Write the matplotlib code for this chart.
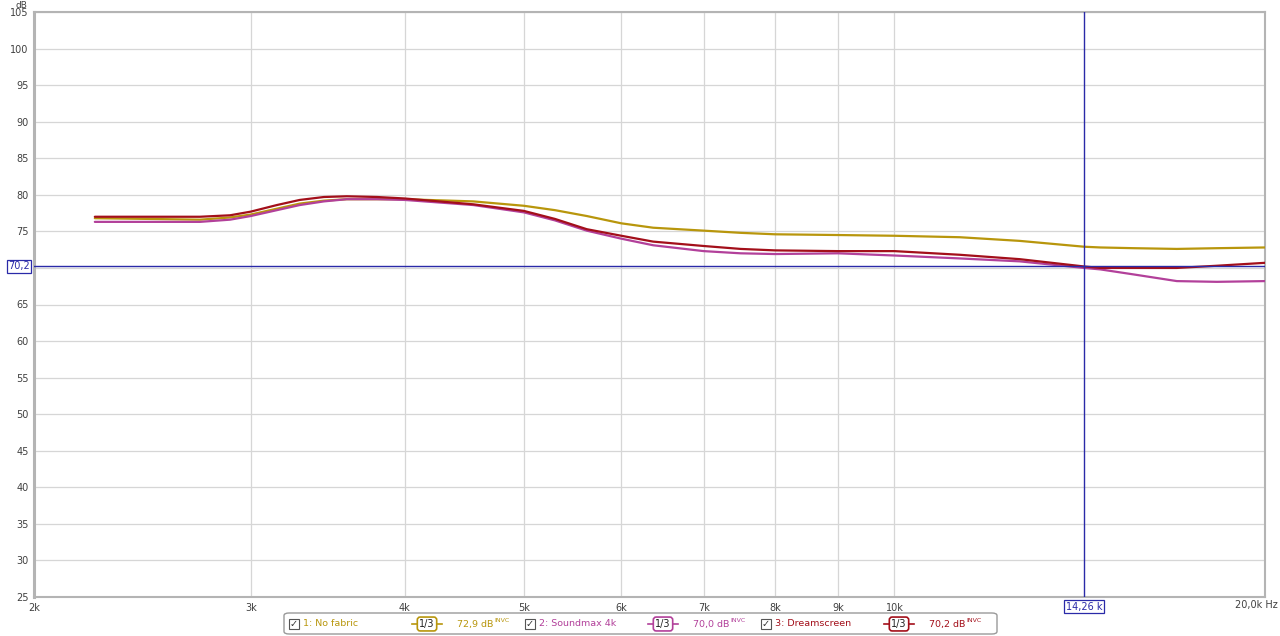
import matplotlib
matplotlib.use("Agg")
import matplotlib.pyplot as plt
from matplotlib.patches import FancyBboxPatch, Rectangle
from matplotlib.lines import Line2D
from matplotlib.ticker import FixedLocator, NullLocator

# ---------------------------------------------------------------------------
# Data
# ---------------------------------------------------------------------------
freqs = [2241, 2484, 2728, 2886, 3000, 3150, 3288, 3440, 3590, 3800, 4000,
         4549, 5000, 5300, 5624, 6000, 6368, 7000, 7500, 8000, 9000, 10000,
         11300, 12640, 14260, 14700, 15660, 16960, 18280, 20000]

no_fabric = [76.8, 76.7, 76.6, 76.9, 77.3, 78.1, 78.8, 79.2, 79.4, 79.4, 79.4,
             79.1, 78.5, 77.9, 77.1, 76.1, 75.5, 75.1, 74.8, 74.6, 74.5, 74.4,
             74.2, 73.7, 72.9, 72.8, 72.7, 72.6, 72.7, 72.8]

soundmax = [76.3, 76.3, 76.3, 76.6, 77.1, 77.9, 78.6, 79.1, 79.4, 79.4, 79.3,
            78.6, 77.6, 76.5, 75.1, 74.0, 73.1, 72.3, 72.0, 71.9, 72.0, 71.7,
            71.3, 70.9, 70.0, 69.8, 69.1, 68.2, 68.1, 68.2]

dreamscreen = [77.0, 77.0, 77.0, 77.2, 77.7, 78.6, 79.3, 79.7, 79.8, 79.7, 79.5,
               78.7, 77.8, 76.7, 75.3, 74.4, 73.6, 73.0, 72.6, 72.4, 72.3, 72.3,
               71.8, 71.2, 70.2, 70.0, 70.0, 70.0, 70.3, 70.7]

series_names = ["1: No fabric", "2: Soundmax 4k", "3: Dreamscreen"]
series_colors = ["#B8960C", "#B2409A", "#A30F1A"]
cursor_values = ["72,9", "70,0", "70,2"]

cursor_freq = 14260
cursor_db = 70.2

y_ticks = list(range(25, 106, 5))
x_ticks = [2000, 3000, 4000, 5000, 6000, 7000, 8000, 9000, 10000]
x_tick_labels = ["2k", "3k", "4k", "5k", "6k", "7k", "8k", "9k", "10k"]

# ---------------------------------------------------------------------------
# Figure
# ---------------------------------------------------------------------------
plt.rcParams["font.family"] = ["DejaVu Sans"]
W, H = 1280, 636
fig = plt.figure(figsize=(W / 100, H / 100), dpi=100)
fig.patch.set_facecolor("white")


def fx(px):
    return px / W


def fy(py):
    return 1 - py / H


ax = fig.add_axes([fx(34), fy(597), fx(1265) - fx(34), fy(12) - fy(597)])
ax.set_xscale("log")
ax.set_xlim(2000, 20000)
ax.set_ylim(25, 105)

ax.xaxis.set_major_locator(FixedLocator(x_ticks))
ax.xaxis.set_minor_locator(NullLocator())
ax.set_xticklabels(x_tick_labels)
ax.set_yticks(y_ticks)
ax.set_yticklabels(["" if v == 70 else str(v) for v in y_ticks])
ax.tick_params(length=0, labelsize=7, colors="#404040", pad=4)

ax.grid(True, color="#d6d6d6", linewidth=0.9)
ax.set_axisbelow(True)
for side, sp in ax.spines.items():
    sp.set_color("#b4b4b4")
    sp.set_linewidth(2.2 if side == "left" else 1.5)

for vals, color in zip([no_fabric, soundmax, dreamscreen], series_colors):
    ax.plot(freqs, vals, color=color, linewidth=1.6, solid_capstyle="round",
            solid_joinstyle="round", zorder=3)

# cursor lines
ax.axvline(cursor_freq, color="#2a2aa8", linewidth=1.0, zorder=4)
ax.axhline(cursor_db, color="#2a2aa8", linewidth=1.0, zorder=4)

box = dict(boxstyle="square,pad=0.15", facecolor="white",
           edgecolor="#2a2aa8", linewidth=0.9)
ax.annotate(f"{cursor_db:.1f}".replace(".", ","), xy=(0, cursor_db),
            xycoords=("axes fraction", "data"), xytext=(-3, 0),
            textcoords="offset points", ha="right", va="center",
            fontsize=7, color="#2a2aa8", bbox=box, annotation_clip=False,
            zorder=6)
ax.annotate(f"{cursor_freq / 1000:.2f} k".replace(".", ","), xy=(cursor_freq, 0),
            xycoords=("data", "axes fraction"), xytext=(0, -7),
            textcoords="offset points", ha="center", va="center",
            fontsize=7, color="#2a2aa8", bbox=box, annotation_clip=False,
            zorder=6)

fig.text(fx(21), fy(0.5), "dB", fontsize=6.5, color="#404040",
         ha="center", va="top")
fig.text(fx(1278), fy(605), "20,0k Hz", fontsize=7, color="#404040",
         ha="right", va="center")

# ---------------------------------------------------------------------------
# Legend bar
# ---------------------------------------------------------------------------
fig.patches.append(FancyBboxPatch(
    (fx(284), fy(634)), fx(997) - fx(284), fy(613) - fy(634),
    boxstyle="round,pad=0,rounding_size=0.004", transform=fig.transFigure,
    facecolor="white", edgecolor="#9a9a9a", linewidth=1.0))

ly = fy(624)
for i, (name, color, val) in enumerate(zip(series_names, series_colors,
                                            cursor_values)):
    off = 236 * i
    # checkbox
    fig.patches.append(Rectangle((fx(289 + off), fy(629)), fx(10), fy(619) - fy(629),
                                 transform=fig.transFigure, facecolor="white",
                                 edgecolor="#555555", linewidth=0.8))
    fig.text(fx(294 + off), ly, "\u2713", fontsize=7, color="#333333",
             ha="center", va="center")
    fig.text(fx(303 + off), ly, name, fontsize=6.8, color=color,
             ha="left", va="center")
    # 1/3 smoothing symbol
    fig.lines.append(Line2D([fx(412 + off), fx(442 + off)], [ly, ly],
                            transform=fig.transFigure, color=color,
                            linewidth=1.2))
    fig.text(fx(427 + off), ly, "1/3", fontsize=7, color="#222222",
             ha="center", va="center",
             bbox=dict(boxstyle="round,pad=0.2,rounding_size=0.3",
                       facecolor="white", edgecolor=color, linewidth=1.2))
    fig.text(fx(493 + off), ly, f"{val} dB", fontsize=6.8, color=color,
             ha="right", va="center")
    fig.text(fx(494 + off), fy(620), "INVC", fontsize=4.5, color=color,
             ha="left", va="center")

fig.savefig("out.png", dpi=100, facecolor="white")
